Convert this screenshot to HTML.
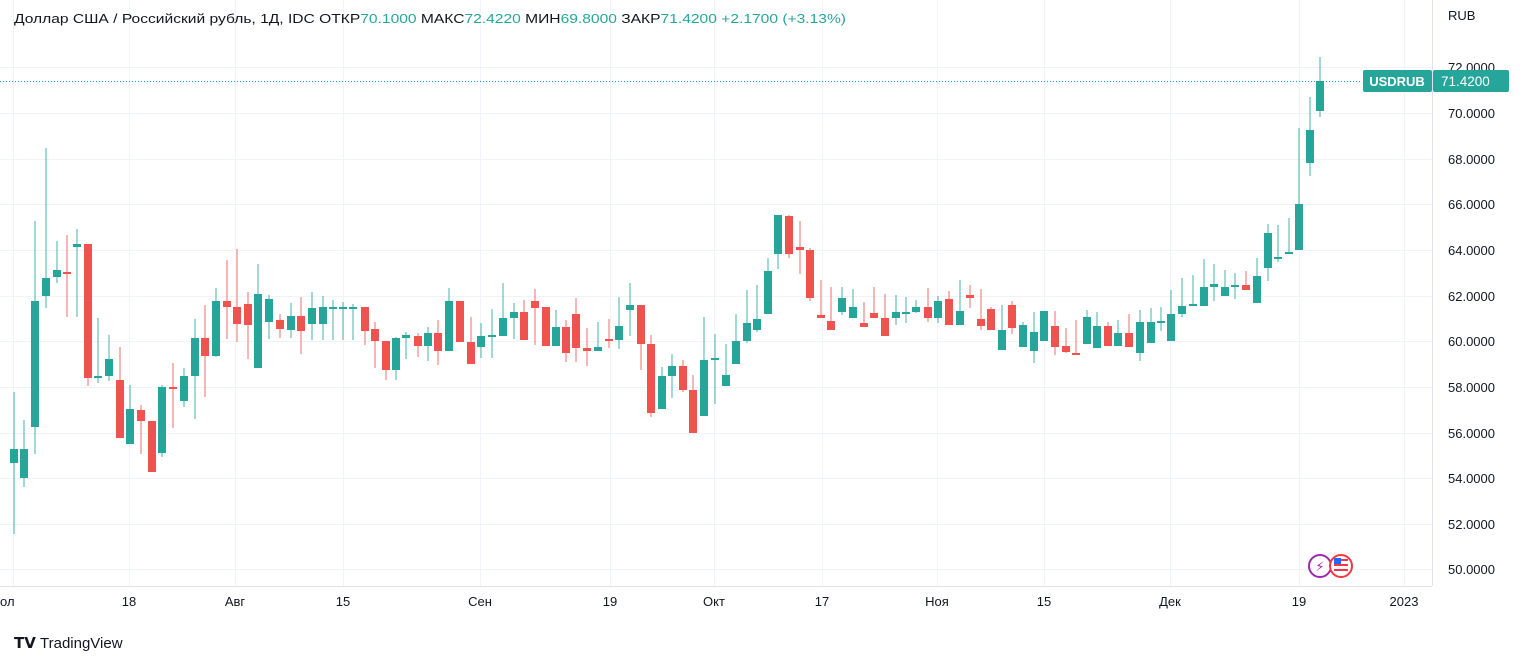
<!DOCTYPE html>
<html><head><meta charset="utf-8"><style>
body{margin:0;background:#fff;width:1536px;height:664px;overflow:hidden;font-family:"Liberation Sans","DejaVu Sans",sans-serif}
svg{display:block}
</style></head><body>
<svg id="s" width="1536" height="664" xmlns="http://www.w3.org/2000/svg" font-family="Liberation Sans, DejaVu Sans, sans-serif">
<g id="grid" stroke="#f0f3fa" stroke-width="1"></g>
<line x1="1432.5" y1="0" x2="1432.5" y2="586" stroke="#e0e3eb"/>
<line x1="0" y1="586.5" x2="1432" y2="586.5" stroke="#e0e3eb"/>
<line x1="0" y1="81.5" x2="1362" y2="81.5" stroke="#26a69a" stroke-dasharray="1,2" stroke-width="1"/>
<g id="c"></g>
<g id="lab" font-size="13" fill="#131722"></g>
<text x="14" y="23" font-size="13" fill="#131722" textLength="832" lengthAdjust="spacingAndGlyphs">Доллар США / Российский рубль, 1Д, IDC  ОТКР<tspan fill="#26a69a">70.1000</tspan>  МАКС<tspan fill="#26a69a">72.4220</tspan>  МИН<tspan fill="#26a69a">69.8000</tspan>  ЗАКР<tspan fill="#26a69a">71.4200</tspan>  <tspan fill="#26a69a">+2.1700 (+3.13%)</tspan></text>
<text x="1448" y="20" font-size="13" fill="#131722">RUB</text>
<rect x="1363" y="70" width="69" height="22" rx="2" fill="#26a69a"/>
<text x="1397" y="86" font-size="13" fill="#fff" text-anchor="middle" font-weight="bold">USDRUB</text>
<rect x="1433" y="70" width="76" height="22" rx="2" fill="#26a69a"/>
<text x="1441" y="86" font-size="13.5" fill="#fff">71.4200</text>
<circle cx="1320" cy="566" r="11" fill="#fff" stroke="#9c27b0" stroke-width="2"/>
<text x="1320" y="571" font-size="13" fill="#9c27b0" text-anchor="middle">⚡</text>
<circle cx="1341" cy="566" r="11" fill="#fff" stroke="#f23645" stroke-width="2"/>
<g fill="#f23645"><rect x="1334" y="559" width="14" height="2"/><rect x="1334" y="564" width="14" height="2"/><rect x="1334" y="569" width="14" height="2"/></g>
<rect x="1334" y="558" width="7" height="6" fill="#2962ff"/>
<text x="14" y="648" font-size="15" fill="#131722" font-weight="bold">𝗧𝗩</text>
<text x="40" y="648" font-size="15" fill="#131722">TradingView</text>
</svg>
<script>
var NS="http://www.w3.org/2000/svg";
function el(p,t,a,txt){var e=document.createElementNS(NS,t);for(var k in a)e.setAttribute(k,a[k]);if(txt)e.textContent=txt;p.appendChild(e);return e;}
var g=document.getElementById('grid'),lab=document.getElementById('lab');
var ys=[[72,67],[70,113],[68,159],[66,204],[64,250],[62,296],[60,341],[58,387],[56,433],[54,478],[52,524],[50,569]];
ys.forEach(function(p){el(g,'line',{x1:0,x2:1432,y1:p[1]+.5,y2:p[1]+.5});el(lab,'text',{x:1448,y:p[1]+5},p[0].toFixed(4));});
var xs=[[13,''],[129,'18'],[235,'Авг'],[343,'15'],[480,'Сен'],[610,'19'],[714,'Окт'],[822,'17'],[937,'Ноя'],[1044,'15'],[1170,'Дек'],[1299,'19'],[1404,'2023']];
xs.forEach(function(p){el(g,'line',{x1:p[0]+.5,x2:p[0]+.5,y1:0,y2:586});});
el(lab,'text',{x:0,y:606},'ол');
xs.slice(1).forEach(function(p){el(lab,'text',{x:p[0],y:606,'text-anchor':'middle'},p[1]);});
// x, bodyTop, bodyBot, wickTop, wickBot, color g/r
var C=[
[14,449,463,392,534,'g'],[24,449,478,420,487,'g'],[35,301,427,221,454,'g'],[46,278,296,148,308,'g'],[57,270,277,241,283,'g'],[67,272,273,235,317,'r'],[77,244,247,229,317,'g'],[88,244,378,244,386,'r'],[98,376,378,318,383,'g'],[109,359,376,335,381,'g'],[120,380,438,347,438,'r'],[130,409,444,385,444,'g'],[141,410,421,405,454,'r'],[152,421,472,421,472,'r'],[162,387,453,385,457,'g'],[173,387,388,363,428,'r'],[184,376,401,368,407,'g'],[195,338,376,319,419,'g'],[205,338,356,305,397,'r'],[216,301,356,288,357,'g'],[227,301,307,260,339,'r'],[237,307,324,249,342,'r'],[248,304,325,292,359,'r'],[258,294,368,264,368,'g'],[269,299,322,295,339,'g'],[280,320,329,314,338,'r'],[291,316,330,303,338,'g'],[301,316,331,297,354,'r'],[312,308,324,292,340,'g'],[323,307,324,296,340,'g'],[333,307,308,300,340,'g'],[343,307,308,302,340,'g'],
[353,307,308,304,340,'g'],[365,307,331,307,345,'r'],[375,329,341,322,368,'r'],[386,341,370,341,380,'r'],[396,338,370,337,380,'g'],[406,335,338,332,359,'g'],[418,336,346,333,357,'r'],[428,333,346,327,361,'g'],[438,333,351,320,365,'r'],[449,301,351,288,351,'g'],[460,301,342,301,342,'r'],[471,342,364,317,364,'r'],[481,336,347,323,358,'g'],[492,335,336,309,358,'g'],[503,318,336,283,336,'g'],[514,312,318,303,339,'g'],[524,312,340,300,340,'r'],[535,301,308,289,345,'r'],[546,307,346,307,346,'r'],[556,327,346,310,346,'g'],[566,327,353,320,362,'r'],[576,314,348,298,362,'r'],[587,348,351,328,366,'r'],[598,347,351,322,351,'g'],[609,339,340,319,348,'r'],[619,326,340,297,349,'g'],[630,305,310,283,336,'g'],[641,305,344,305,370,'r'],[651,344,413,335,417,'r'],[662,376,409,367,409,'g'],[672,366,376,354,398,'g'],[683,366,390,360,392,'r'],[693,390,433,375,433,'r'],[704,360,416,317,416,'g'],[715,358,359,334,404,'g'],
[726,375,386,344,386,'g'],[736,341,364,314,364,'g'],[747,323,341,290,343,'g'],[757,319,330,285,332,'g'],[768,271,314,258,314,'g'],[778,215,254,215,269,'g'],[789,216,254,215,258,'r'],[800,247,250,221,274,'r'],[810,250,298,248,301,'r'],[821,315,318,280,318,'r'],[831,321,330,287,330,'r'],[842,298,312,287,315,'g'],[853,307,318,289,318,'g'],[864,323,327,302,327,'r'],[874,313,318,287,318,'r'],[885,318,336,294,336,'r'],[896,312,318,295,325,'g'],[906,312,313,297,323,'g'],[916,307,312,300,313,'g'],[928,307,318,288,322,'r'],[938,301,318,296,323,'g'],[949,299,325,291,325,'r'],[960,311,325,280,325,'g'],[970,295,298,285,308,'r'],[981,319,326,289,330,'r'],[991,309,330,307,330,'r'],[1002,330,350,305,350,'g'],[1012,305,328,301,334,'r'],[1023,325,347,322,347,'g'],[1034,332,351,312,363,'g'],[1044,311,341,311,341,'g'],[1055,326,347,311,355,'r'],[1066,346,352,328,353,'r'],[1076,353,354,320,354,'r'],[1087,317,344,310,344,'g'],[1097,326,348,312,348,'g'],
[1108,326,346,322,346,'r'],[1118,333,346,320,346,'g'],[1129,333,347,314,347,'r'],[1140,322,353,310,361,'g'],[1151,322,343,308,343,'g'],[1161,321,322,307,331,'g'],[1171,314,341,290,341,'g'],[1182,306,314,278,317,'g'],[1193,304,305,275,305,'g'],[1204,287,306,259,306,'g'],[1214,284,287,264,301,'g'],[1225,287,296,270,296,'g'],[1235,285,287,273,299,'g'],[1246,285,290,271,290,'r'],[1257,276,303,258,303,'g'],[1268,233,268,224,281,'g'],[1278,257,258,225,262,'g'],[1289,252,254,218,254,'g'],[1299,204,250,128,250,'g'],[1310,130,163,97,176,'g'],[1320,81,111,57,117,'g']
];
var cg=document.getElementById('c');
C.forEach(function(c){var col=c[5]=='g'?'#26a69a':'#ef5350';
el(cg,'rect',{x:c[0]-0.5,y:c[3],width:1,height:c[4]-c[3],fill:col,opacity:.85});
var h=Math.max(2,c[2]-c[1]);el(cg,'rect',{x:c[0]-4,y:c[1],width:8,height:h,fill:col});});
</script>
</body></html>
